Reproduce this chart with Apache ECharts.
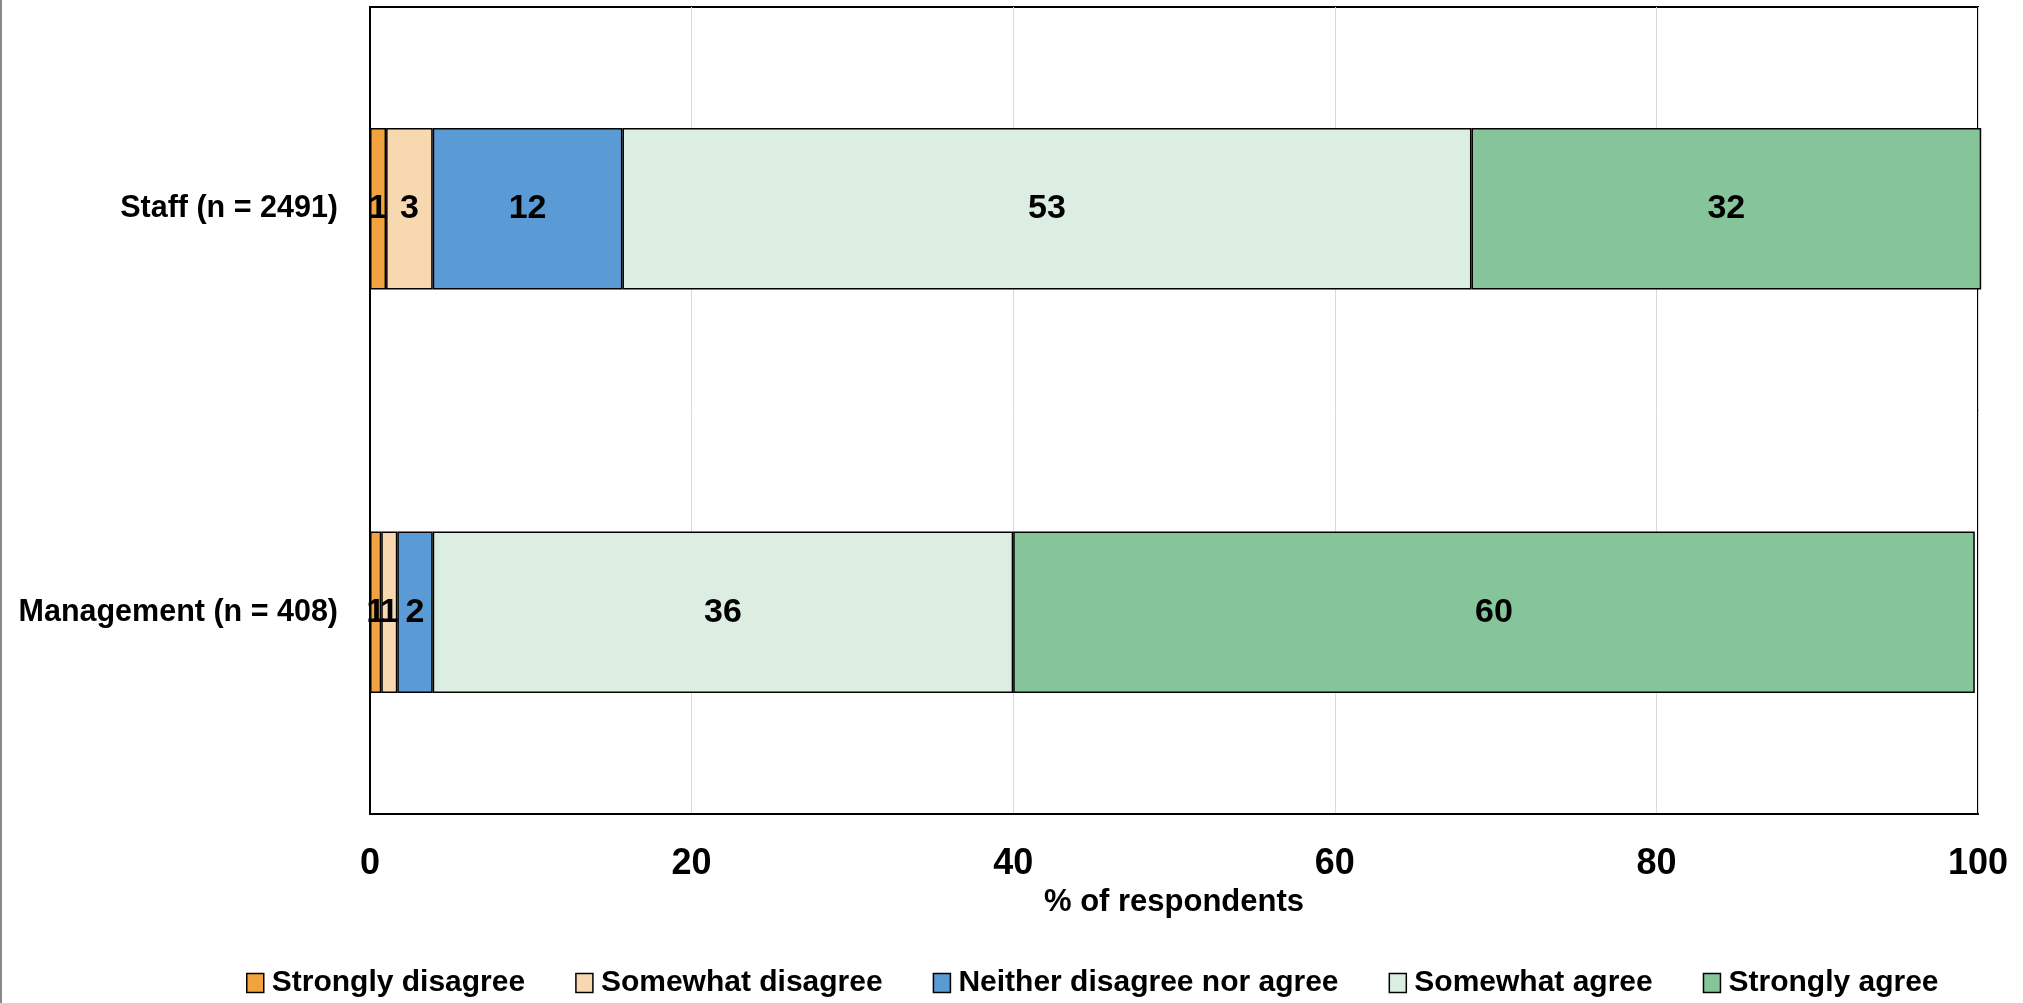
<!DOCTYPE html>
<html>
<head>
<meta charset="utf-8">
<script src="https://cdn.jsdelivr.net/npm/echarts@6/dist/echarts.min.js"></script>
<style>
html,body{margin:0;padding:0;background:#fff;}
#chart{width:2023px;height:1003px;}
</style>
</head>
<body>
<div id="chart"></div>
<script>
const categories = ['Staff (n = 2491)', 'Management (n = 408)'];
const seriesNames = ['Strongly disagree', 'Somewhat disagree', 'Neither disagree nor agree', 'Somewhat agree', 'Strongly agree'];
const stronglyDisagree = [1.0, 0.7];
const somewhatDisagree = [2.9, 1.0];
const neither = [11.8, 2.2];
const somewhatAgree = [52.8, 36.1];
const stronglyAgree = [31.7, 59.8];
const xTicks = [0, 20, 40, 60, 80, 100];

const colors = ['#F2A23E', '#F8D8B1', '#5B9BD5', '#DCEEE2', '#86C59A'];
const FONT = "'Liberation Sans Narrow', 'Arial Narrow', 'Liberation Sans', Arial, sans-serif";
const values = [stronglyDisagree, somewhatDisagree, neither, somewhatAgree, stronglyAgree];

const chart = echarts.init(document.getElementById('chart'));
chart.setOption({
  animation: false,
  textStyle: {fontFamily: FONT},
  grid: {left: 370, right: 45, top: 7, bottom: 189, show: true, borderColor: '#000', borderWidth: 2,
         containLabel: false, outerBoundsMode: 'none'},
  legend: {
    left: 241, top: 963,
    itemWidth: 17, itemHeight: 19, itemGap: 50,
    icon: 'rect',
    textStyle: {fontFamily: FONT, fontSize: 30, fontWeight: 'bold', color: '#000', padding: [0,0,0,3]},
    itemStyle: {borderColor: '#000', borderWidth: 1.5},
    data: seriesNames
  },
  xAxis: {
    type: 'value', min: xTicks[0], max: xTicks[xTicks.length-1], interval: 20,
    name: '% of respondents', nameLocation: 'middle', nameGap: 70,
    nameTextStyle: {fontFamily: FONT, fontSize: 31, fontWeight: 'bold', color: '#000'},
    axisLine: {show: true, lineStyle: {color: '#000', width: 2}},
    axisTick: {show: false},
    axisLabel: {fontFamily: FONT, fontSize: 36, fontWeight: 'bold', color: '#000', margin: 32},
    splitLine: {show: true, lineStyle: {color: '#d9d9d9', width: 1}}
  },
  yAxis: {
    type: 'category', data: categories, inverse: true,
    axisLine: {show: true, lineStyle: {color: '#000', width: 2}},
    axisTick: {show: false},
    axisLabel: {fontFamily: FONT, fontSize: 30.5, fontWeight: 'bold', color: '#000', margin: 32},
    splitLine: {show: false}
  },
  series: seriesNames.map((name, i) => ({
    name: name, type: 'bar', stack: 'total', data: values[i],
    barWidth: '40%', clip: false,
    itemStyle: {color: colors[i], borderColor: '#000', borderWidth: 1.5},
    label: {
      show: true, position: 'inside', color: '#000',
      fontFamily: FONT, fontSize: 34, fontWeight: 'bold',
      formatter: p => Math.round(p.value)
    }
  })),
  graphic: [{type: 'line', shape: {x1: 1, y1: 0, x2: 1, y2: 1003}, style: {stroke: '#888', lineWidth: 2}}]
});
</script>
</body>
</html>
